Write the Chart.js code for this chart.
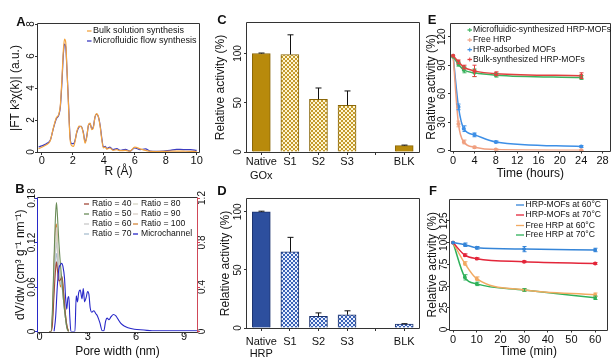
<!DOCTYPE html>
<html><head><meta charset="utf-8">
<script src="https://cdn.jsdelivr.net/npm/chart.js@4.4.1/dist/chart.umd.min.js"></script>
<style>
html,body{margin:0;padding:0;background:#fff;}
body{width:615px;height:363px;position:relative;overflow:hidden;}
canvas{position:absolute;}
</style></head><body>
<canvas id="cA" width="205" height="183" style="left:0;top:0"></canvas>
<canvas id="cB" width="215" height="183" style="left:0;top:180px"></canvas>
<canvas id="cC" width="215" height="183" style="left:205px;top:0"></canvas>
<canvas id="cD" width="215" height="183" style="left:205px;top:180px"></canvas>
<canvas id="cE" width="195" height="183" style="left:420px;top:0"></canvas>
<canvas id="cF" width="195" height="183" style="left:420px;top:180px"></canvas>
<script>
// ================= DATA =================
// Panel A
const aR = [-0.2,0,0.3,0.55,0.75,0.95,1.1,1.2,1.3,1.4,1.47,1.55,1.62,1.72,1.83,1.94,2.05,2.15,2.27,2.42,2.55,2.68,2.8,2.9,3.02,3.12,3.23,3.33,3.44,3.55,3.66,3.77,3.88,3.98,4.1,4.2,4.4,4.6,4.85,5.05,5.4,5.7,6.0,6.35,6.7,7.0,7.4,7.85,8.3,8.7,9.15,9.6,10.0];
const aBulk = [0.2,0.3,0.45,0.7,1.5,2.15,2.35,2.9,4.5,6.4,7.05,6.85,5.4,3.1,0.8,0.4,0.35,0.65,1.3,1.62,1.58,1.2,0.55,0.9,1.7,1.8,1.4,1.5,2.2,2.4,2.2,1.6,0.75,0.25,0.3,0.18,0.25,0.1,0.15,0.08,0.1,0.05,0.3,0.2,0.1,0.04,0.03,0.04,0.05,0.06,0.05,0.04,0.03];
const aMicro = [0.31,0.38,0.52,0.73,1.46,2.09,2.3,2.8,4.28,6.16,6.75,6.58,5.32,3.24,0.94,0.52,0.52,0.73,1.25,1.57,1.61,1.25,0.63,0.94,1.67,1.77,1.46,1.57,2.19,2.36,2.19,1.67,0.84,0.31,0.35,0.21,0.31,0.15,0.21,0.1,0.17,0.06,0.25,0.15,0.19,0.06,0.04,0.06,0.1,0.17,0.15,0.15,0.1];
const aNames = ['Bulk solution synthesis','Microfluidic flow synthesis'];
const aTicksX = [0,2,4,6,8,10];
const aTicksY = [0,2,4,6,8];

// Panel B
const bRatioX = [0.6,0.7,0.8,0.9,1.0,1.05,1.1,1.2,1.3,1.4,1.5,1.6,1.7,1.8];
const bR40  = [0,0,0.01,0.05,0.085,0.094,0.085,0.068,0.07,0.074,0.05,0.025,0.008,0];
const bR50  = [0,0,0.03,0.1,0.16,0.174,0.16,0.12,0.09,0.065,0.04,0.02,0.005,0];
const bR60  = [0,0,0.02,0.07,0.11,0.12,0.11,0.085,0.07,0.06,0.04,0.02,0.005,0];
const bR70  = [0,0,0.015,0.06,0.1,0.105,0.095,0.075,0.065,0.06,0.04,0.02,0.005,0];
const bR80  = [0,0,0.02,0.07,0.12,0.13,0.115,0.09,0.075,0.06,0.04,0.02,0.005,0];
const bR90  = [0,0,0.02,0.08,0.13,0.14,0.12,0.09,0.075,0.065,0.045,0.02,0.005,0];
const bR100 = [0,0,0.02,0.09,0.14,0.145,0.12,0.08,0.06,0.07,0.05,0.025,0.008,0];
const bMicroX = [0.9,1.0,1.1,1.2,1.3,1.37,1.45,1.55,1.62,1.69,1.76,1.82,1.88,1.95,2.1,2.2,2.28,2.36,2.43,2.53,2.64,2.72,2.8,2.9,2.99,3.07,3.15,3.25,3.38,3.5,3.6,3.75,3.9,4.0,4.11,4.2,4.32,4.45,4.6,4.75,4.9,5.06,5.3,5.5,5.9,6.5,7.0,8.0,9.8];
const bMicro  = [0,0.02,0.06,0.085,0.09,0.092,0.088,0.072,0.045,0.03,0.045,0.047,0.02,0,0,0,0.048,0.04,0.052,0.056,0.044,0.058,0.04,0.046,0.054,0.05,0.032,0.026,0.028,0.024,0.021,0.012,0.001,0.001,0.014,0.018,0.016,0.02,0.023,0.021,0.016,0.011,0.007,0.005,0.003,0.002,0.001,0.001,0.001];
const bNames = ['Ratio = 40','Ratio = 50','Ratio = 60','Ratio = 70','Ratio = 80','Ratio = 90','Ratio = 100','Microchannel'];
const bTicksX = [0,3,6,9];
const bTicksY = [0,0.06,0.12,0.18];
const bTicksY2 = [0,0.4,0.8,1.2];

// Panel C
const cCats = [['Native','GOx'],'S1','S2','S3','','BLK'];
const cVals = [100,99,53.5,47.5,null,6.5];
const cErrs = [0.5,20,11.5,14.5,null,0.5];
const cTicksY = [0,50,100];

// Panel D
const dCats = [['Native','HRP'],'S1','S2','S3','','BLK'];
const dVals = [100,65.5,10,11.4,null,3.4];
const dErrs = [0.5,12.5,3,3.4,null,0.3];
const dTicksY = [0,50,100];

// Panel E
const eX = [0,1,2,4,8,24];
const eMicro = [99,91,85,82,79.5,77];
const eMicroErr = [0,2,3,4,2,2];
const eFree = [100,28,9,3.5,1,0.3];
const eFreeErr = [0,3,2,1,0.5,0.3];
const eAds = [100,46,23,16.5,9,4.2];
const eAdsErr = [0,3,3,2,1,1];
const eBulk = [100,93.5,88,84,81,79];
const eBulkErr = [0,2,2,6,2,3];
const eNames = ['Microfluidic-synthesized HRP-MOFs','Free HRP','HRP-adsorbed MOFs','Bulk-synthesized HRP-MOFs'];
const eTicksX = [0,4,8,12,16,20,24,28];
const eTicksY = [0,30,60,90,120];

// Panel F
const fX = [0,5,10,30,60];
const fMof60 = [100,97.5,94,92.5,91.5];
const fMof60Err = [0,2,1.5,3,2];
const fMof70 = [100,85.5,81.5,78,76];
const fMof70Err = [0,1.5,1,1,1];
const fFree60 = [100,76,58.5,45.5,40];
const fFree60Err = [0,2,2,1.5,2];
const fFree70 = [100,60,52.5,45.5,36.5];
const fFree70Err = [0,3,2,1.5,2];
const fNames = ['HRP-MOFs at 60°C','HRP-MOFs at 70°C','Free HRP at 60°C','Free HRP at 70°C'];
const fTicksX = [0,10,20,30,40,50,60];
const fTicksY = [0,25,50,75,100,125];

// ================= SETUP =================
const FONT = '"Liberation Sans", Arial, Helvetica, sans-serif';
Chart.defaults.font.family = FONT;
Chart.defaults.color = '#111';
Chart.defaults.animation = false;
Chart.defaults.plugins.legend.display = false;
Chart.defaults.plugins.tooltip.enabled = false;
const TICK = 3, YFS = 10, XFS = 11;
const mctx = document.createElement('canvas').getContext('2d');
function yPad(labels, d) {
  mctx.font = YFS + 'px ' + FONT;
  const w = Math.max(...labels.map(l => mctx.measureText(String(l)).width));
  return d - w / 2 - TICK;
}
function axisY(o) {
  return {
    type: 'linear', position: o.pos || 'left', min: o.min, max: o.max,
    afterBuildTicks: s => { s.ticks = o.ticks.map(v => ({value: v})); },
    afterFit: s => { s.width = o.w; },
    border: {display: false},
    grid: {display: true, drawOnChartArea: false, drawTicks: true, tickLength: TICK, color: o.tc || '#333'},
    ticks: {autoSkip: false, minRotation: 90, maxRotation: 90, crossAlign: 'center',
      padding: yPad(o.ticks, o.d), font: {size: YFS}, callback: v => String(v)},
    title: o.title ? {display: true, text: o.title, font: {size: 12}, color: '#111',
      padding: {top: o.tx - 7.2, bottom: 0}} : {display: false}
  };
}
function axisX(o) {
  const ax = {
    type: o.type || 'linear', position: 'bottom',
    afterFit: s => { s.height = o.h; },
    border: {display: false},
    grid: {display: true, drawOnChartArea: false, drawTicks: true, tickLength: TICK, color: '#333', offset: false},
    ticks: {autoSkip: false, minRotation: 0, maxRotation: 0,
      padding: o.g - (o.lh || 1.2) * XFS / 2 - TICK, font: {size: XFS, lineHeight: o.lh || 1.2}},
    title: o.title ? {display: true, text: o.title, font: {size: 12}, color: '#111',
      padding: {top: 0, bottom: o.tyb - 7.2}} : {display: false}
  };
  if (ax.type === 'linear') {
    ax.min = o.min; ax.max = o.max;
    ax.afterBuildTicks = s => { s.ticks = o.ticks.map(v => ({value: v})); };
    ax.ticks.callback = v => String(v);
  }
  return ax;
}
function checker(dark, light) {
  const c = document.createElement('canvas'); c.width = 4; c.height = 4;
  const g = c.getContext('2d');
  g.fillStyle = light; g.fillRect(0, 0, 4, 4);
  g.fillStyle = dark; g.fillRect(0, 0, 2, 2); g.fillRect(2, 2, 2, 2);
  return g.createPattern(c, 'repeat');
}
const deco = {
  id: 'deco',
  afterDatasetsDraw(chart) {
    const ctx = chart.ctx;
    ctx.save();
    chart.data.datasets.forEach((ds, di) => {
      if (!ds.errs) return;
      const meta = chart.getDatasetMeta(di);
      const ys = chart.scales[meta.yAxisID];
      ctx.strokeStyle = ds.errColor || '#111';
      ctx.lineWidth = 1;
      meta.data.forEach((el, i) => {
        const e = ds.errs[i];
        if (!e) return;
        const raw = ds.data[i];
        const v = (raw && typeof raw === 'object') ? raw.y : raw;
        if (v == null) return;
        const x = Math.round(el.x) + 0.5;
        const yHi = ys.getPixelForValue(v + e);
        const yLo = ds.errBoth ? ys.getPixelForValue(v - e) : ys.getPixelForValue(v);
        const cw = ds.errCap || 3;
        ctx.beginPath();
        ctx.moveTo(x, yLo); ctx.lineTo(x, yHi);
        ctx.moveTo(x - cw, yHi); ctx.lineTo(x + cw, yHi);
        if (ds.errBoth) { ctx.moveTo(x - cw, yLo); ctx.lineTo(x + cw, yLo); }
        ctx.stroke();
      });
    });
    ctx.restore();
  },
  afterDraw(chart, args, o) {
    const ctx = chart.ctx, a = chart.chartArea;
    ctx.save();
    const b = o.box || {};
    const L = Math.round(a.left) - 0.5, R = Math.round(a.right) + 0.5;
    const T = Math.round(a.top) - 0.5, B = Math.round(a.bottom) + 0.5;
    ctx.lineWidth = 1;
    const seg = (x1, y1, x2, y2, c) => { ctx.strokeStyle = c; ctx.beginPath(); ctx.moveTo(x1, y1); ctx.lineTo(x2, y2); ctx.stroke(); };
    seg(L, T, R, T, b.t || '#333');
    seg(R, T, R, B, b.r || '#333');
    seg(L, B, R, B, b.b || '#333');
    seg(L, T, L, B, b.l || '#333');
    if (o.legend) {
      const lg = o.legend;
      ctx.font = lg.size + 'px ' + FONT;
      ctx.textBaseline = 'middle'; ctx.textAlign = 'left';
      lg.items.forEach(it => {
        ctx.strokeStyle = it.c; ctx.lineWidth = 1.3;
        ctx.beginPath(); ctx.moveTo(it.x, it.y); ctx.lineTo(it.x + lg.len, it.y); ctx.stroke();
        if (lg.tick) {
          ctx.lineWidth = 1; ctx.beginPath();
          ctx.moveTo(it.x + lg.len / 2, it.y - 2); ctx.lineTo(it.x + lg.len / 2, it.y + 2); ctx.stroke();
        }
        ctx.fillStyle = '#111';
        ctx.fillText(it.t, it.x + lg.len + lg.gap, it.y);
      });
    }
    if (o.letter) {
      ctx.font = 'bold 13px ' + FONT; ctx.fillStyle = '#111';
      ctx.textAlign = 'center'; ctx.textBaseline = 'middle';
      ctx.fillText(o.letter.t, o.letter.x, o.letter.y);
    }
    ctx.restore();
  }
};
Chart.register(deco);
const pts = (xs, ys) => xs.map((x, i) => ({x, y: ys[i]}));
const base = {responsive: false, maintainAspectRatio: false};

// ================= PANEL A =================
new Chart(document.getElementById('cA'), {
  type: 'line',
  data: {datasets: [
    {label: aNames[0], data: pts(aR, aBulk), borderColor: '#f3a440', borderWidth: 1.2, pointRadius: 0, cubicInterpolationMode: 'monotone'},
    {label: aNames[1], data: pts(aR, aMicro), borderColor: '#3c3cc0', borderWidth: 1.2, pointRadius: 0, cubicInterpolationMode: 'monotone'}
  ]},
  options: Object.assign({}, base, {
    layout: {padding: {left: 0, top: 24, right: 6, bottom: 0}},
    scales: {
      x: axisX({min: -0.24, max: 10.15, ticks: aTicksX, h: 31, g: 8.5, title: 'R (Å)', tyb: 183 - 172}),
      y: axisY({min: 0, max: 8, ticks: aTicksY, w: 38, d: 6.5, title: '|FT k³χ(k)| (a.u.)', tx: 15.5})
    },
    plugins: {deco: {
      letter: {t: 'A', x: 21, y: 22},
      legend: {size: 9, len: 4.5, gap: 1.5, items: [
        {t: aNames[0], c: '#f3a440', x: 87, y: 31},
        {t: aNames[1], c: '#3c3cc0', x: 87, y: 41}
      ]}
    }}
  })
});

// ================= PANEL B =================
const bColors = ['#a34a3a','#6a8c58','#c9c9c9','#a9bfd0','#d6d6c6','#d9cfc8','#d4873c','#2828c8'];
const bRatioSets = [bR40, bR50, bR60, bR70, bR80, bR90, bR100];
const bDatasets = bRatioSets.map((arr, i) => ({
  label: bNames[i], data: pts(bRatioX, arr), borderColor: bColors[i], borderWidth: 1.1,
  pointRadius: 0, cubicInterpolationMode: 'monotone', order: i === 1 ? 1 : 2
}));
bDatasets.push({label: bNames[7], data: pts(bMicroX, bMicro), borderColor: bColors[7], borderWidth: 1.1,
  pointRadius: 0, cubicInterpolationMode: 'monotone', order: 0});
new Chart(document.getElementById('cB'), {
  type: 'line',
  data: {datasets: bDatasets},
  options: Object.assign({}, base, {
    layout: {padding: {left: 0, top: 18, right: 0, bottom: 0}},
    scales: {
      x: axisX({min: -0.1, max: 9.8, ticks: bTicksX, h: 183 - 151.5, g: 5.5, title: 'Pore width (nm)', tyb: 183 - 172}),
      y: axisY({min: 0, max: 0.18, ticks: bTicksY, w: 38, d: 6, title: 'dV/dw (cm³ g⁻¹ nm⁻¹)', tx: 20.5, tc: '#2828c8'}),
      y2: axisY({pos: 'right', min: 0, max: 1.2, ticks: bTicksY2, w: 18, d: 5.5, tc: '#d04858'})
    },
    plugins: {deco: {
      letter: {t: 'B', x: 20, y: 9},
      box: {l: '#2828c8', r: '#d04858'},
      legend: {size: 8.6, len: 5, gap: 3, items: bNames.map((t, i) => ({
        t, c: bColors[i], x: i < 4 ? 84 : 133, y: 24 + (i % 4) * 10
      }))}
    }}
  })
});

// ================= PANEL C =================
const gSolid = '#b88a0c', gPat = checker('#c49a2c', '#fff6d2');
new Chart(document.getElementById('cC'), {
  type: 'bar',
  data: {labels: cCats, datasets: [{
    data: cVals, errs: cErrs, errCap: 3,
    backgroundColor: [gSolid, gPat, gPat, gPat, gSolid, gSolid],
    borderColor: '#8a6708', borderWidth: 1, barThickness: 18
  }]},
  options: Object.assign({}, base, {
    layout: {padding: {left: 0, top: 23, right: 1.5, bottom: 0}},
    scales: {
      x: axisX({type: 'category', h: 183 - 152, g: 10, lh: 1.27}),
      y: axisY({min: 0, max: 131, ticks: cTicksY, w: 42, d: 9, title: 'Relative activity (%)', tx: 16})
    },
    plugins: {deco: {letter: {t: 'C', x: 17, y: 20}}}
  })
});

// ================= PANEL D =================
const hSolid = '#2d4f9e', hPat = checker('#3a62b6', '#e8efff');
new Chart(document.getElementById('cD'), {
  type: 'bar',
  data: {labels: dCats, datasets: [{
    data: dVals, errs: dErrs, errCap: 3,
    backgroundColor: [hSolid, hPat, hPat, hPat, hSolid, hPat],
    borderColor: '#1d3470', borderWidth: 1, barThickness: 18
  }]},
  options: Object.assign({}, base, {
    layout: {padding: {left: 0, top: 19, right: 1.5, bottom: 0}},
    scales: {
      x: axisX({type: 'category', h: 183 - 148, g: 13.5, lh: 1.1}),
      y: axisY({min: 0, max: 111, ticks: dTicksY, w: 42, d: 8.5, title: 'Relative activity (%)', tx: 21})
    },
    plugins: {deco: {letter: {t: 'D', x: 17, y: 11}}}
  })
});

// ================= PANEL E =================
const eColors = ['#3bb35e','#f0a080','#3d8fe6','#e34040'];
const eSets = [[eMicro, eMicroErr], [eFree, eFreeErr], [eAds, eAdsErr], [eBulk, eBulkErr]];
new Chart(document.getElementById('cE'), {
  type: 'line',
  data: {datasets: eSets.map((s, i) => ({
    label: eNames[i], data: pts(eX, s[0]), errs: s[1], errBoth: true, errCap: 2, errColor: eColors[i],
    borderColor: eColors[i], backgroundColor: eColors[i], borderWidth: 1.5, pointRadius: 1.3,
    cubicInterpolationMode: 'monotone', order: i === 3 ? 0 : 1
  }))},
  options: Object.assign({}, base, {
    layout: {padding: {left: 0, top: 23.5, right: 5, bottom: 0}},
    scales: {
      x: axisX({min: -0.4, max: 29.3, ticks: eTicksX, h: 183 - 150.5, g: 10, title: 'Time (hours)', tyb: 183 - 174}),
      y: axisY({min: 0, max: 134, ticks: eTicksY, w: 31, d: 9, title: 'Relative activity (%)', tx: 12})
    },
    plugins: {deco: {
      letter: {t: 'E', x: 12, y: 20},
      legend: {size: 8.6, len: 4.5, gap: 1, tick: true, items: eNames.map((t, i) => ({
        t, c: eColors[i], x: 47.5, y: [30, 40, 49.7, 59.5][i]
      }))}
    }}
  })
});

// ================= PANEL F =================
const fColors = ['#3585d8','#e3263a','#f2aa62','#2fb15a'];
const fSets = [[fMof60, fMof60Err], [fMof70, fMof70Err], [fFree60, fFree60Err], [fFree70, fFree70Err]];
new Chart(document.getElementById('cF'), {
  type: 'line',
  data: {datasets: fSets.map((s, i) => ({
    label: fNames[i], data: pts(fX, s[0]), errs: s[1], errBoth: true, errCap: 2, errColor: fColors[i],
    borderColor: fColors[i], backgroundColor: fColors[i], borderWidth: 1.5, pointRadius: 1.2,
    cubicInterpolationMode: 'monotone'
  }))},
  options: Object.assign({}, base, {
    layout: {padding: {left: 0, top: 20, right: 8, bottom: 0}},
    scales: {
      x: axisX({min: -1.27, max: 65, ticks: fTicksX, h: 183 - 149.5, g: 10.5, title: 'Time (min)', tyb: 183 - 172}),
      y: axisY({min: 0, max: 149, ticks: fTicksY, w: 30, d: 5.5, title: 'Relative activity (%)', tx: 13})
    },
    plugins: {deco: {
      letter: {t: 'F', x: 13, y: 11},
      legend: {size: 8.6, len: 8, gap: 1.5, items: fNames.map((t, i) => ({
        t, c: fColors[i], x: 96, y: [25, 35, 45.5, 55][i]
      }))}
    }}
  })
});
</script>
</body></html>
